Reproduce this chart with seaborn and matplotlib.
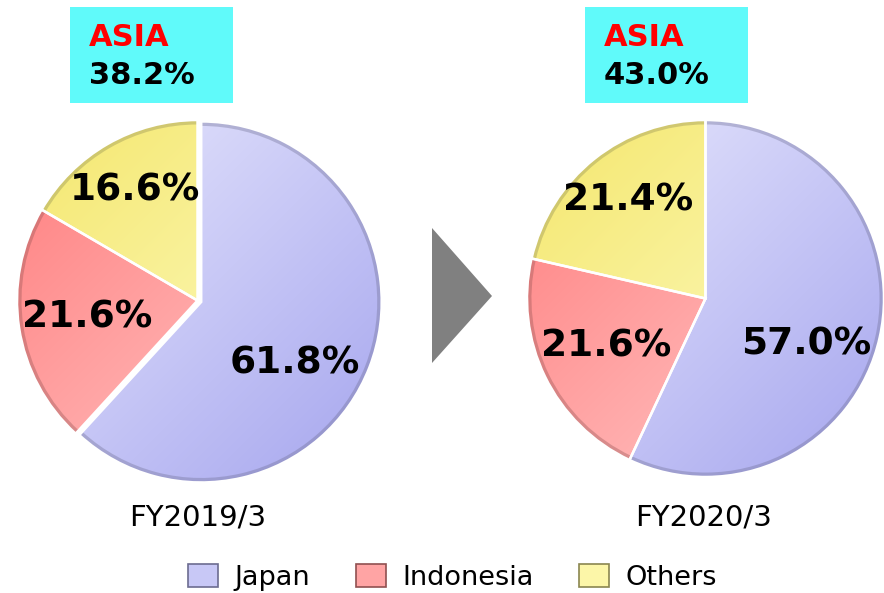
import numpy as np
import matplotlib
matplotlib.use("Agg")
import matplotlib.pyplot as plt
import seaborn as sns
from matplotlib.patches import Rectangle, Polygon, Patch, Wedge
from matplotlib.colors import to_rgb

# data
regions = ["Japan", "Indonesia", "Others"]
periods = ["FY2019/3", "FY2020/3"]
share_2019 = [61.8, 21.6, 16.6]
share_2020 = [57.0, 21.6, 21.4]
shares = [share_2019, share_2020]

# colours (light -> dark gradient per region)
base_colors = ["#c8c8f6", "#ffa4a4", "#fcf6a8"]
grad_colors = [("#ececfe", "#a4a4ee"), ("#ff7c7c", "#ffd0d0"), ("#f4e66a", "#ffffd4")]
edge_colors = ["#6c6c90", "#905050", "#8a8650"]

sns.set_theme(style="white")
plt.rcParams["font.family"] = ["DejaVu Sans"]

W, H = 884, 593
fig = plt.figure(figsize=(W / 100, H / 100), dpi=100)

# overlay axes in pixel coords for boxes, arrow, captions
ov = fig.add_axes([0, 0, 1, 1])
ov.set_xlim(0, W)
ov.set_ylim(H, 0)
ov.axis("off")

pie_geom = [(199.5, 302.5, 182.5), (705.5, 298.5, 178.5)]
box_x = [70, 585]
explode_japan = [0.022, 0.0]


def gradient_img(c1, c2, n=200):
    a, b = np.array(to_rgb(c1)), np.array(to_rgb(c2))
    xx, yy = np.meshgrid(np.linspace(0, 1, n), np.linspace(0, 1, n))
    t = (xx + yy) / 2  # top-left -> bottom-right
    return a + (b - a) * t[..., None]


for i, (cx, cy, r) in enumerate(pie_geom):
    ax = fig.add_axes([(cx - r) / W, (H - cy - r) / H, 2 * r / W, 2 * r / H])
    wedges, _ = ax.pie(shares[i], colors=base_colors, startangle=90, counterclock=False,
                       explode=[explode_japan[i], 0, 0],
                       wedgeprops=dict(edgecolor="white", linewidth=1.8))
    for j, w in enumerate(wedges):
        img = ax.imshow(gradient_img(*grad_colors[j]), extent=(-1.05, 1.05, -1.05, 1.05),
                        origin="upper", zorder=1, interpolation="bilinear")
        img.set_clip_path(w)
        w.set_facecolor("none")
        w.set_zorder(3)
        # subtle dark rim on the outer arc
        ax.add_patch(Wedge(w.center, w.r, w.theta1, w.theta2, width=0.025,
                           facecolor=edge_colors[j], alpha=0.35, edgecolor="none", zorder=2))
        shift = -12 if j == 0 else 0
        dist = 0.70 if j == 2 else 0.62
        ang = np.deg2rad((w.theta1 + w.theta2) / 2 + shift)
        ax.text(w.center[0] + dist * np.cos(ang), w.center[1] + dist * np.sin(ang),
                f"{shares[i][j]:.1f}%", ha="center", va="center",
                fontsize=27, fontweight="bold", color="black", zorder=5)
    ax.set_xlim(-1.0, 1.0 + explode_japan[i])
    ax.set_ylim(-1.0 - explode_japan[i], 1.0)
    ax.set_aspect("equal")
    ax.axis("off")

    # ASIA box
    asia = sum(shares[i][1:])
    ov.add_patch(Rectangle((box_x[i], 7), 163, 96, facecolor="#60fafa", edgecolor="none"))
    ov.text(box_x[i] + 19, 37, "ASIA", color="#ff0000", fontsize=22, fontweight="bold",
            ha="left", va="center")
    ov.text(box_x[i] + 19, 76, f"{asia:.1f}%", color="black", fontsize=22, fontweight="bold",
            ha="left", va="center")

    ov.text(cx - 2, 518, periods[i], fontsize=21, ha="center", va="center", color="#000000")

# arrow between pies
ov.add_patch(Polygon([(432, 228), (492, 296), (432, 363)], closed=True,
                     facecolor="#808080", edgecolor="none"))

handles = [Patch(facecolor=base_colors[k], edgecolor=edge_colors[k], linewidth=1.2)
           for k in range(len(regions))]
fig.legend(handles, regions, loc="center", bbox_to_anchor=(0.512, 0.026), ncol=3,
           frameon=False, fontsize=19.5, labelcolor="black", handlelength=1.1,
           handleheight=0.95, handletextpad=0.6, columnspacing=1.7)

fig.savefig("out.png", dpi=100)
